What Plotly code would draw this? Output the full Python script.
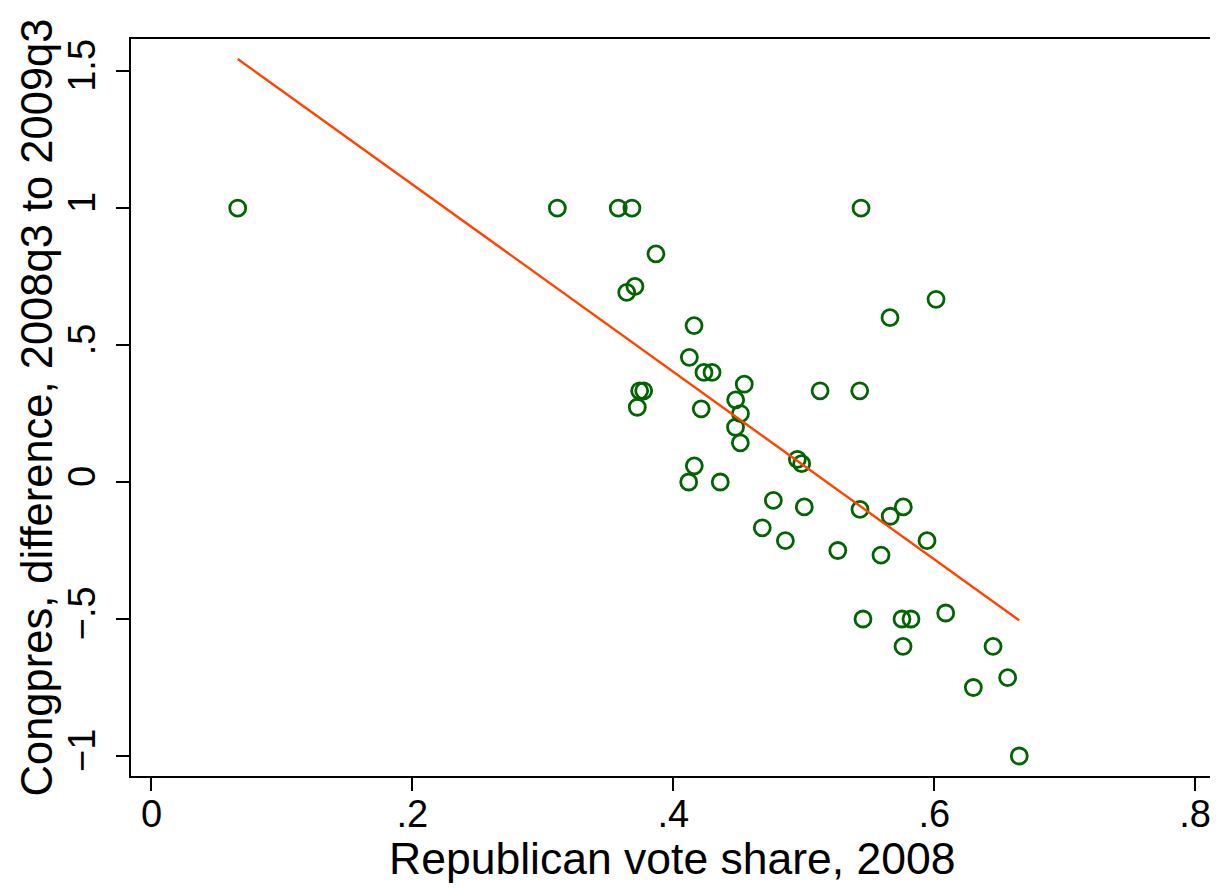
import plotly.graph_objects as go

# Scatter data: Republican vote share 2008 vs Congpres difference
rep_share = [0.0661, 0.3111, 0.3578, 0.3683, 0.3867, 0.3706, 0.3643, 0.4159, 0.4123,
             0.4235, 0.4297, 0.4544, 0.3742, 0.3773, 0.3724, 0.4214, 0.4478, 0.4515,
             0.4477, 0.4514, 0.4161, 0.4118, 0.4360, 0.4951, 0.4984, 0.4767, 0.5004,
             0.4682, 0.4859, 0.5125, 0.5429, 0.5439, 0.5661, 0.6014, 0.5431, 0.5663,
             0.5763, 0.5261, 0.5592, 0.5945, 0.5454, 0.5753, 0.5822, 0.6088, 0.5761,
             0.6451, 0.6300, 0.6563, 0.6652]
congpres_diff = [1.0, 1.0, 1.0, 1.0, 0.833, 0.714, 0.692, 0.571, 0.455,
                 0.4, 0.4, 0.357, 0.333, 0.333, 0.273, 0.267, 0.3, 0.25,
                 0.2, 0.143, 0.059, 0.0, 0.0, 0.083, 0.067, -0.067, -0.091,
                 -0.167, -0.214, 0.333, 0.333, 1.0, 0.6, 0.667, -0.1, -0.125,
                 -0.091, -0.25, -0.267, -0.214, -0.5, -0.5, -0.5, -0.478, -0.6,
                 -0.6, -0.75, -0.714, -1.0]

# Fitted line endpoints (x) and values
fit_x = [0.0661, 0.6652]
fit_y = [1.544, -0.505]

x_tickvals = [0, 0.2, 0.4, 0.6, 0.8]
x_ticktext = ["0", ".2", ".4", ".6", ".8"]
y_tickvals = [-1, -0.5, 0, 0.5, 1, 1.5]
y_ticktext = ["\u22121", "\u2212.5", "0", ".5", "1", "1.5"]

x_title = "Republican vote share, 2008"
y_title = "Congpres, difference, 2008q3 to 2009q3"

FONT = "Liberation Sans, Arial, Helvetica, sans-serif"

fig = go.Figure()
fig.add_trace(go.Scatter(
    x=rep_share, y=congpres_diff, mode="markers",
    marker=dict(symbol="circle-open", size=16, color="#006400",
                line=dict(width=2.8, color="#006400")),
    showlegend=False, hoverinfo="x+y"))
fig.add_trace(go.Scatter(
    x=fit_x, y=fit_y, mode="lines",
    line=dict(color="#FF4500", width=2.4),
    showlegend=False))

fig.update_layout(
    width=1210, height=880,
    margin=dict(l=123, r=5, t=31, b=112, autoexpand=False),
    plot_bgcolor="white", paper_bgcolor="white",
    font=dict(family=FONT, size=38, color="black"),
    xaxis=dict(range=[-0.0157, 0.8137], tickvals=x_tickvals, ticktext=x_ticktext,
               automargin=False,
               showgrid=False, zeroline=False, showline=True, mirror=True,
               linecolor="black", linewidth=2, ticks="outside", ticklen=13,
               tickwidth=1.5, tickcolor="black", ticklabelstandoff=-10),
    yaxis=dict(range=[-1.073, 1.617], tickvals=y_tickvals, ticktext=y_ticktext,
               tickangle=-90, automargin=False,
               showgrid=False, zeroline=False, showline=True, mirror=True,
               linecolor="black", linewidth=2, ticks="outside", ticklen=13,
               tickwidth=1.5, tickcolor="black", ticklabelstandoff=6),
    annotations=[
        dict(text=x_title, xref="paper", yref="paper", x=0.5, y=-0.112,
             xanchor="center", yanchor="middle", showarrow=False,
             font=dict(size=44.5)),
        dict(text=y_title, xref="paper", yref="paper", x=-0.0869, y=0.5,
             xanchor="center", yanchor="middle", textangle=-90, showarrow=False,
             borderpad=0, font=dict(size=43.5)),
    ],
)

fig.write_html("out.html")
